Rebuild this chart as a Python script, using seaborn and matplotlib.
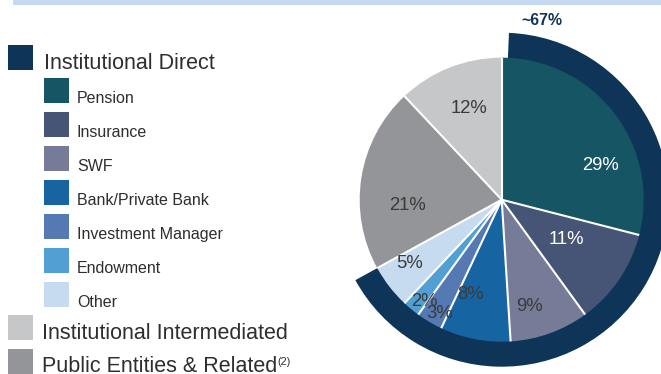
import matplotlib
matplotlib.use("Agg")
import matplotlib.pyplot as plt
from matplotlib.patches import Wedge, Rectangle
import numpy as np
import seaborn as sns

# ---- data -------------------------------------------------------------
slice_names = ["Pension", "Insurance", "SWF", "Bank/Private Bank",
               "Investment Manager", "Endowment", "Other",
               "Public Entities & Related", "Institutional Intermediated"]
slice_shares = [29, 11, 9, 8, 3, 2, 5, 21, 12]
slice_colors = ["#165563", "#465576", "#767b98", "#1764a3",
                "#5479b3", "#519fd3", "#c6dbf0", "#939598", "#c6c7c9"]
label_colors = ["white", "white", "#3a3a3a", "#3a3a3a", "#3a3a3a",
                "#3a3a3a", "#3a3a3a", "#3a3a3a", "#3a3a3a"]

direct_name = "Institutional Direct"
direct_color = "#0e3558"
direct_share = 67
direct_label = "~67%"

direct_members = ["Pension", "Insurance", "SWF", "Bank/Private Bank",
                  "Investment Manager", "Endowment", "Other"]
other_groups = ["Institutional Intermediated", "Public Entities & Related"]
footnote_mark = "(2)"

# label anchor points (pixel offsets from the pie centre)
label_offsets = [(99, 34), (65, -40), (28, -107), (-31, -95), (-62, -114),
                 (-77, -102), (-92, -64), (-94, -6), (-33, 91)]

# ---- figure -----------------------------------------------------------
sns.set_theme(style="white")
plt.rcParams["font.family"] = ["Liberation Sans", "DejaVu Sans"]

W, H = 661, 374
fig = plt.figure(figsize=(W / 100, H / 100), dpi=100)
ax = fig.add_axes([0, 0, 1, 1])


def py(y):
    return H - y


cx, cy = 501.7, py(199.7)
R = 142
ring_R = 167

# outer band marking the Institutional Direct share
ring = Wedge((cx, cy), ring_R, 90 - 360 * direct_share / 100, 90 - 2.5,
             width=45, facecolor=direct_color, edgecolor="none", zorder=0.5)
ax.add_patch(ring)

wedges, _ = ax.pie(slice_shares, colors=slice_colors, startangle=90,
                   counterclock=False, center=(cx, cy), radius=R,
                   wedgeprops=dict(linewidth=0))
for w in wedges:
    w.set_zorder(1)

ax.set_xlim(0, W)
ax.set_ylim(0, H)
ax.set_aspect("equal")
ax.axis("off")

# white separators between slices
bounds = np.concatenate([[0], np.cumsum(slice_shares)]) / sum(slice_shares)
for b in bounds[:-1]:
    ang = np.deg2rad(90 - 360 * b)
    ax.plot([cx, cx + R * np.cos(ang)], [cy, cy + R * np.sin(ang)],
            color="white", lw=1.5, solid_capstyle="butt", zorder=2)

for share, (dx, dy), col in zip(slice_shares, label_offsets, label_colors):
    ax.text(cx + dx, cy + dy, f"{share}%", ha="center", va="center",
            fontsize=13.3, color=col, zorder=3)

ax.text(541.7, py(20.7), direct_label, ha="center", va="center",
        fontsize=11.4, fontweight="bold", color=direct_color)

# top accent bar
ax.add_patch(Rectangle((13, py(5)), W - 13, 5, facecolor="#c5daf0",
                       edgecolor="none"))

# ---- legend ------------------------------------------------------------
txt_color = "#2e2e2e"
ax.add_patch(Rectangle((8, py(70)), 25, 25, facecolor=direct_color,
                       edgecolor="none"))
ax.text(44, py(69), direct_name, fontsize=15.5, va="baseline",
        color=txt_color)

color_of = dict(zip(slice_names, slice_colors))
for i, name in enumerate(direct_members):
    top = 78 + 34 * i
    ax.add_patch(Rectangle((44, py(top + 25)), 25, 25,
                           facecolor=color_of[name], edgecolor="none"))
    ax.text(77, py(top + 24.7), name, fontsize=11.5, va="baseline",
            color=txt_color)

group_tops = [315, 349]
group_bases = [339.3, 371.5]
last = None
for name, top, base in zip(other_groups, group_tops, group_bases):
    ax.add_patch(Rectangle((8, py(top + 25)), 25, 25,
                           facecolor=color_of[name], edgecolor="none"))
    last = ax.text(42, py(base), name, fontsize=15.5, va="baseline",
                   color=txt_color)

fig.canvas.draw()
bb = last.get_window_extent(renderer=fig.canvas.get_renderer())
x_end = ax.transData.inverted().transform((bb.x1, bb.y0))[0]
ax.text(x_end + 0.5, py(365), footnote_mark, fontsize=7.8, va="baseline",
        color=txt_color)

fig.savefig("out.png", dpi=100)
